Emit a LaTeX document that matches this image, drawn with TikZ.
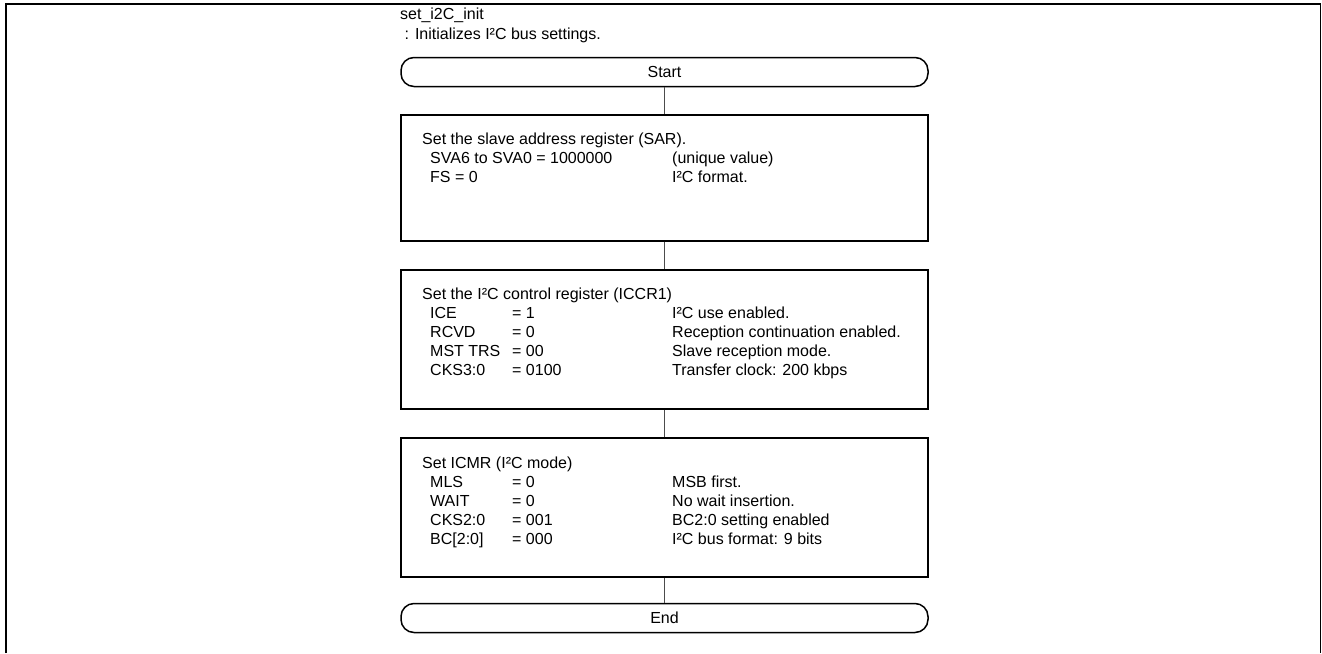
\documentclass[tikz,border=0pt]{standalone}
\usepackage{fontspec}
\setmainfont{Liberation Sans}
\begin{document}
\begin{tikzpicture}[x=1pt,y=-1pt,
  every node/.style={font=\fontsize{16}{19}\selectfont, inner sep=0pt},
  frameline/.style={line width=1.8pt, black},
  term/.style={draw, line width=1.5pt, rounded corners=13pt, minimum width=527pt, minimum height=29pt},
  procbox/.style={draw, line width=1.5pt, minimum width=527pt},
  conn/.style={line width=1.1pt, draw=black!70},
  txt/.style={anchor=base west}]
\useasboundingbox (0,0) rectangle (1322,653);
\draw[frameline] (6,653) -- (6,4) -- (1320.5,4) -- (1320.5,653);

\node[txt] (title) at (400,19.5) {set\_i2C\_init};
\node[txt] (subtitle) at (400,39.5) {\ : Initializes I²C bus settings.};

\node[term] (start) at (664.5,72) {Start};
\node[procbox, minimum height=126pt] (sar) at (664.5,178) {};
\node[procbox, minimum height=139pt] (iccr) at (664.5,339.5) {};
\node[procbox, minimum height=139pt] (icmr) at (664.5,507.5) {};
\node[term] (end) at (664.5,618) {End};

\draw[conn] (start) -- (sar);
\draw[conn] (sar) -- (iccr);
\draw[conn] (iccr) -- (icmr);
\draw[conn] (icmr) -- (end);

% SAR box
\node[txt] (a0) at (422,144) {Set the slave address register (SAR).};
\node[txt] (a1) at (430,163) {SVA6 to SVA0 = 1000000};
\node[txt] (a1c) at (672,163) {(unique value)};
\node[txt] (a2) at (430,182) {FS = 0};
\node[txt] (a2c) at (672,182) {I²C format.};

% ICCR1 box
\node[txt] (b0) at (422,299) {Set the I²C control register (ICCR1)};
\node[txt] (b1) at (430,318) {ICE};
\node[txt] (b1v) at (512,318) {= 1};
\node[txt] (b1c) at (672,318) {I²C use enabled.};
\node[txt] (b2) at (430,337) {RCVD};
\node[txt] (b2v) at (512,337) {= 0};
\node[txt] (b2c) at (672,337) {Reception continuation enabled.};
\node[txt] (b3) at (430,356) {MST TRS};
\node[txt] (b3v) at (512,356) {= 00};
\node[txt] (b3c) at (672,356) {Slave reception mode.};
\node[txt] (b4) at (430,375) {CKS3:0};
\node[txt] (b4v) at (512,375) {= 0100};
\node[txt] (b4c) at (672,375) {Transfer clock: 200 kbps};

% ICMR box
\node[txt] (c0) at (422,468) {Set ICMR (I²C mode)};
\node[txt] (c1) at (430,487) {MLS};
\node[txt] (c1v) at (512,487) {= 0};
\node[txt] (c1c) at (672,487) {MSB first.};
\node[txt] (c2) at (430,506) {WAIT};
\node[txt] (c2v) at (512,506) {= 0};
\node[txt] (c2c) at (672,506) {No wait insertion.};
\node[txt] (c3) at (430,525) {CKS2:0};
\node[txt] (c3v) at (512,525) {= 001};
\node[txt] (c3c) at (672,525) {BC2:0 setting enabled};
\node[txt] (c4) at (430,544) {BC[2:0]};
\node[txt] (c4v) at (512,544) {= 000};
\node[txt] (c4c) at (672,544) {I²C bus format: 9 bits};
\end{tikzpicture}
\end{document}
